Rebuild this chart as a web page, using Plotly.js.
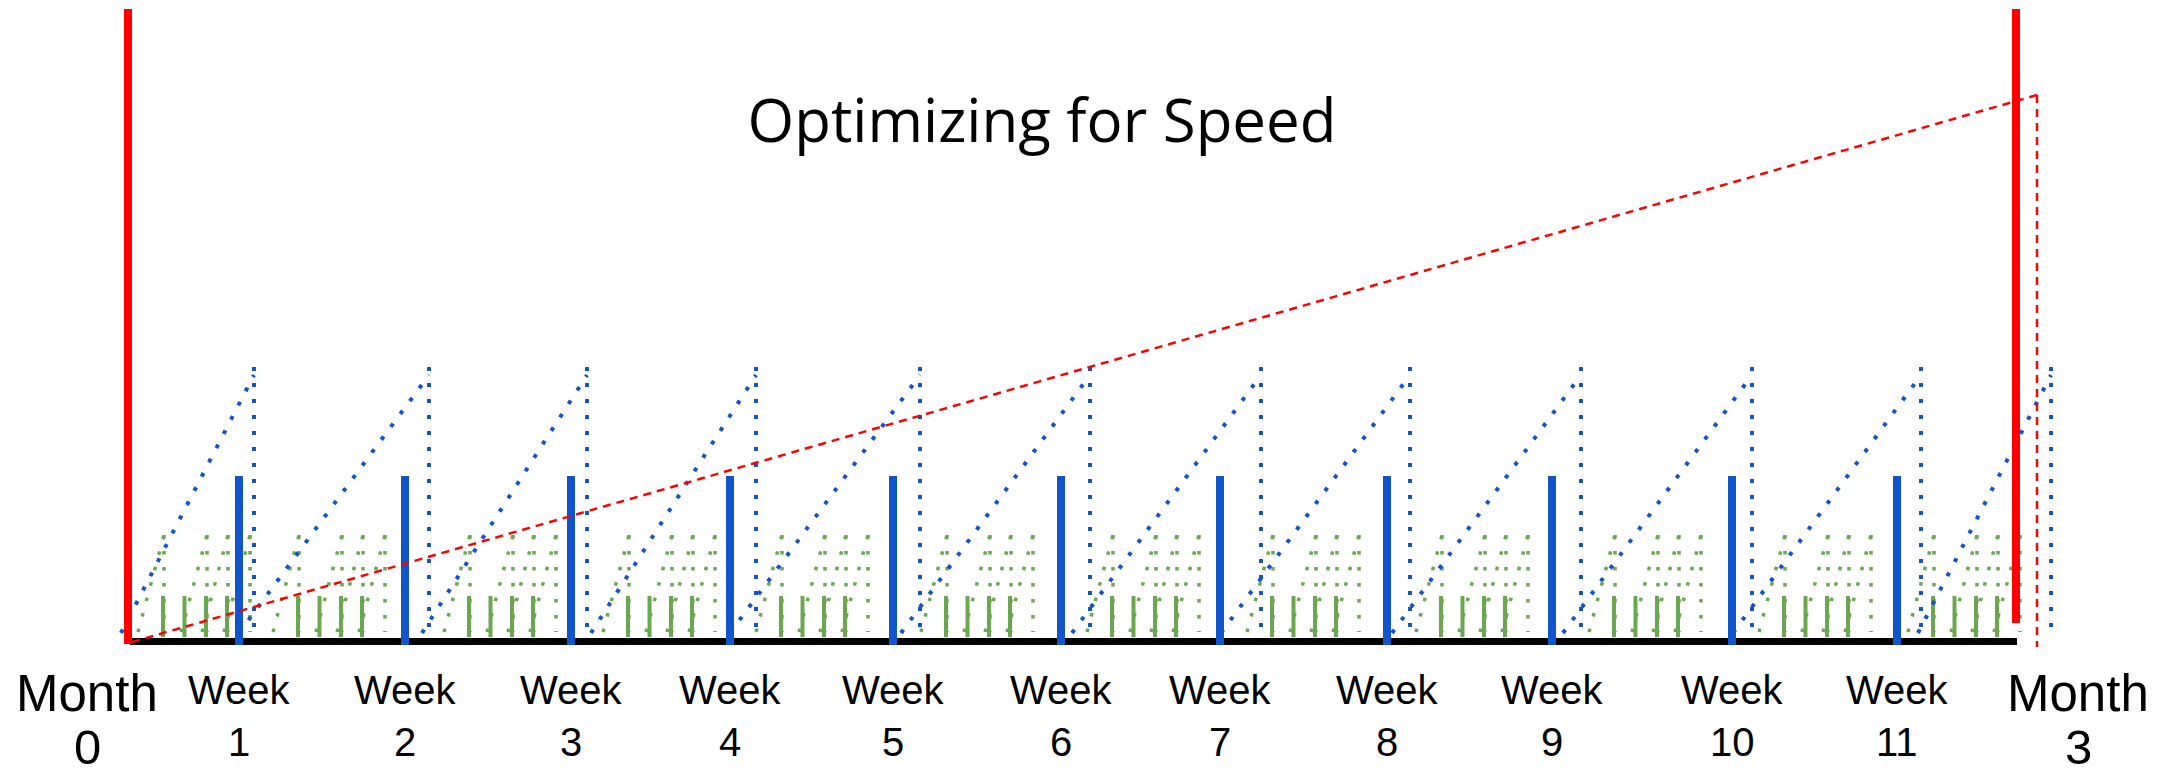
<!DOCTYPE html>
<html>
<head>
<meta charset="utf-8">
<script src="https://cdn.plot.ly/plotly-3.0.1.min.js"></script>
<style>
html,body{margin:0;padding:0;background:#ffffff;}
#chart{width:2175px;height:774px;}
</style>
</head>
<body>
<div id="chart"></div>
<script>
// ---------- data (timeline units along x, height units along y; baseline = 0) ----------
const chartTitle = 'Optimizing for Speed';

// Month boundaries (red bars) and their labels
const monthMarkers = [128, 2016];
const monthMarkerTop = [632, 632];
const monthMarkerBottom = [-3, 18];
const monthLabelX = [87, 2078];
const monthLabels = ['0', '3'];

// Weekly release markers (solid blue bars) and labels
const weekMarkers = [239, 405, 571, 730, 893, 1061, 1220, 1387, 1552, 1732, 1897];
const weekLabels = ['1', '2', '3', '4', '5', '6', '7', '8', '9', '10', '11'];
const weekMarkerTop = 165;
const weekMarkerBottom = -4;

// Weekly accumulation cycles (blue dotted sawtooth)
const weekCycleStart = [121, 239, 422, 591, 730, 901, 1072, 1221, 1392, 1563, 1733, 1918];
const weekCycleEnd   = [254, 429, 587, 756, 920, 1090, 1261, 1410, 1581, 1752, 1921, 2051];
const weekCycleLow = 8;
const weekCycleHigh = 266;
const weekDropTop = 274;
const weekDropBottom = 2;

// Daily cycles (green) – one group per week
const dayGroupAnchor = [163, 298, 469, 628, 781, 946, 1112, 1272, 1441, 1614, 1784, 1933];
const dayRiseStart = [-25, 18, 39, 61];
const dayPeak      = [1, 44, 65, 87];
const dayLow = 9;
const dayHigh = 106;
const dayReleases = [0, 21.5, 43, 64];
const releaseLow = 4;
const releaseHigh = 45;

// Quarterly trend (red dashed)
const quarterTrendX = [132, 2037];
const quarterTrendY = [-1, 546];
const quarterDropX = [2037, 2037];
const quarterDropY = [546, -6];

// Timeline baseline
const timelineX = [130, 2017];
const timelineY = [-0.5, -0.5];

// ---------- build traces ----------
const BLUE = '#1155cc', GREEN = '#6aa84f', RED = '#ff0000';

function segments(pairs) {
  const x = [], y = [];
  pairs.forEach(p => { x.push(p[0], p[2], null); y.push(p[1], p[3], null); });
  return {x, y};
}

const greenRise = [], greenDrop = [], greenRelease = [];
dayGroupAnchor.forEach(a => {
  dayPeak.forEach((pk, k) => {
    greenRise.push([a + dayRiseStart[k], dayLow, a + pk, dayHigh]);
    greenDrop.push([a + pk, dayHigh, a + pk, dayLow]);
  });
  dayReleases.forEach(r => greenRelease.push([a + r, releaseLow, a + r, releaseHigh]));
});

const blueRise = weekCycleStart.map((s, i) => [s, weekCycleLow, weekCycleEnd[i], weekCycleHigh]);
const blueDrop = weekCycleEnd.map(e => [e, weekDropTop, e, weekDropBottom]);
const weekBars = weekMarkers.map(x => [x, weekMarkerBottom, x, weekMarkerTop]);
const monthBars = monthMarkers.map((x, i) => [x, monthMarkerBottom[i], x, monthMarkerTop[i]]);

function lineTrace(seg, color, width, dash) {
  return Object.assign({
    type: 'scatter', mode: 'lines', hoverinfo: 'skip', showlegend: false,
    connectgaps: false,
    line: {color: color, width: width, dash: dash || 'solid'}
  }, seg);
}

const traces = [
  lineTrace({x: timelineX, y: timelineY}, '#000000', 7),
  lineTrace(segments(greenRise), GREEN, 3.5, '3.5px,12.5px'),
  lineTrace(segments(greenDrop), GREEN, 3.5, '3.5px,12.5px'),
  lineTrace(segments(greenRelease), GREEN, 4),
  lineTrace(segments(blueRise), BLUE, 4, '4px,12px'),
  lineTrace(segments(blueDrop), BLUE, 4, '4px,12px'),
  lineTrace(segments(weekBars), BLUE, 8),
  lineTrace(segments(monthBars), RED, 8),
  lineTrace({x: quarterTrendX, y: quarterTrendY}, RED, 2.5, '8px,6px'),
  lineTrace({x: quarterDropX, y: quarterDropY}, RED, 2.5, '8px,6px')
];

// ---------- labels ----------
const labelFont = {family: 'Liberation Sans, Arial, sans-serif', color: '#000000'};
const annotations = [];
weekMarkers.forEach((x, i) => {
  annotations.push({x: x, y: -49, xref: 'x', yref: 'y', text: 'Week', showarrow: false,
    xanchor: 'center', yanchor: 'middle', font: Object.assign({size: 40}, labelFont)});
  annotations.push({x: x, y: -101, xref: 'x', yref: 'y', text: weekLabels[i], showarrow: false,
    xanchor: 'center', yanchor: 'middle', font: Object.assign({size: 40}, labelFont)});
});
monthLabelX.forEach((x, i) => {
  annotations.push({x: x, y: -52, xref: 'x', yref: 'y', text: 'Month', showarrow: false,
    xanchor: 'center', yanchor: 'middle', font: Object.assign({size: 51}, labelFont)});
  annotations.push({x: x, y: -106, xref: 'x', yref: 'y', text: monthLabels[i], showarrow: false,
    xanchor: 'center', yanchor: 'middle', font: Object.assign({size: 49}, labelFont)});
});

const layout = {
  width: 2175, height: 774,
  margin: {l: 0, r: 0, t: 0, b: 0, pad: 0},
  paper_bgcolor: '#ffffff', plot_bgcolor: '#ffffff',
  showlegend: false,
  title: {
    text: chartTitle,
    font: {family: 'Open Sans, sans-serif', size: 60, color: '#000000'},
    xref: 'container', yref: 'container',
    x: 1042 / 2175, xanchor: 'center',
    y: 1 - 121 / 774, yanchor: 'middle'
  },
  xaxis: {range: [0, 2175], visible: false, fixedrange: true},
  yaxis: {range: [-133, 641], visible: false, fixedrange: true},
  annotations: annotations
};

Plotly.newPlot('chart', traces, layout, {staticPlot: true, displayModeBar: false});
</script>
</body>
</html>
